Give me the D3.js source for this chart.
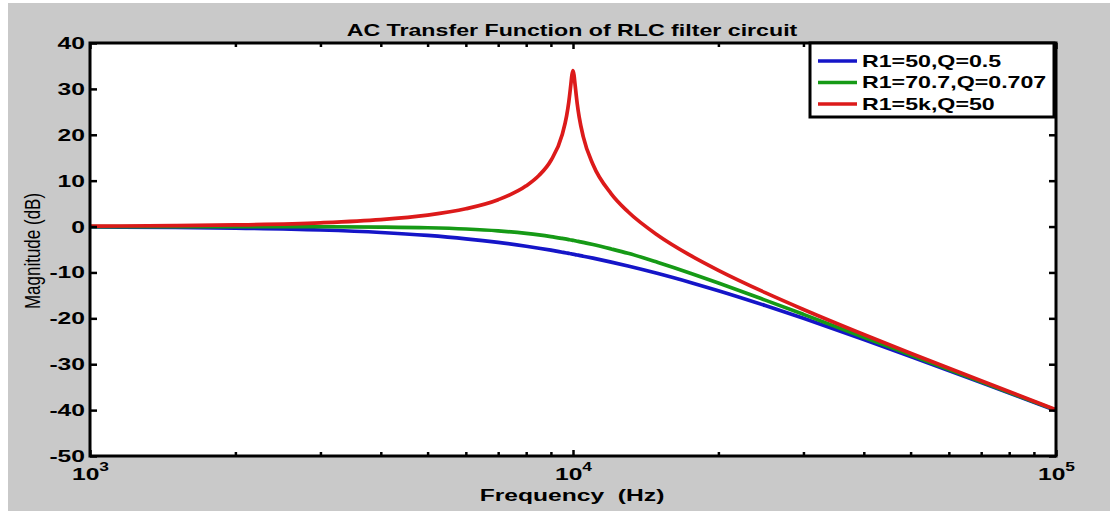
<!DOCTYPE html>
<html lang="en">
<head>
    <meta charset="utf8">
    <title>AC Transfer Function of RLC filter circuit</title>
    <script src="https://d3js.org/d3.v7.min.js"></script>
    <style>
        body { margin: 0; background: #ffffff; }
        svg { display: block; }
        text { font-family: "Liberation Sans", Arial, sans-serif; fill: #000; }
    </style>
</head>
<body>
    <svg id="chart" width="1110" height="512"></svg>
    <script>
        // frequency points (Hz)
        const freqs = [1000, 1500, 2000, 3000, 4000, 5000, 6000, 7000, 8000, 8500, 9000, 9500, 9700, 9800,
                       9900, 9950, 10000, 10050, 10100, 10200, 10300, 10500, 11000, 12000, 13000, 15000,
                       17500, 20000, 25000, 30000, 40000, 50000, 70000, 100000];

        // magnitude in dB for each curve
        const magQ05 = [-0.09, -0.19, -0.34, -0.75, -1.29, -1.94, -2.67, -3.46, -4.30, -4.72, -5.15, -5.59, -5.76, -5.85,
                        -5.93, -5.98, -6.02, -6.06, -6.11, -6.20, -6.28, -6.46, -6.89, -7.75, -8.60, -10.24,
                        -12.18, -13.98, -17.21, -20.00, -24.61, -28.30, -33.98, -40.09];
        const magQ0707 = [0, 0, -0.01, -0.04, -0.11, -0.26, -0.53, -0.93, -1.49, -1.82, -2.19, -2.59, -2.75, -2.84,
                          -2.92, -2.97, -3.01, -3.05, -3.10, -3.19, -3.27, -3.46, -3.92, -4.88, -5.82, -7.83,
                          -10.16, -12.30, -16.03, -19.14, -24.10, -27.97, -33.81, -40.00];
        const magQ50 = [0.09, 0.20, 0.36, 0.82, 1.51, 2.50, 3.88, 5.85, 8.87, 11.12, 14.39, 20.06, 24.12, 27.10,
                        31.03, 33.05, 33.98, 32.97, 30.90, 26.89, 23.84, 19.61, 13.51, 7.13, 3.22, -1.94,
                        -6.29, -9.54, -14.40, -18.06, -23.52, -27.60, -33.62, -39.91];

        const legendLabels = ["R1=50,Q=0.5", "R1=70.7,Q=0.707", "R1=5k,Q=50"];
        const lineColors = ["#1515c8", "#169a16", "#dc1a1a"];
        const yTicks = [-50, -40, -30, -20, -10, 0, 10, 20, 30, 40];
        const xDecades = [1e3, 1e4, 1e5];

        const series = [magQ05, magQ0707, magQ50];

        const W = 1110, H = 512;
        const mLeft = 90, mRight = 1056, mTop = 43, mBottom = 456;
        const SX = 1.45; // the picture is stretched sideways

        const svg = d3.select("#chart");

        svg.append("rect").attr("x", 8).attr("y", 3).attr("width", W - 8).attr("height", H - 4)
           .attr("fill", "#c9c9c9");
        svg.append("rect").attr("x", mLeft).attr("y", mTop)
           .attr("width", mRight - mLeft).attr("height", mBottom - mTop).attr("fill", "#fff");

        const x = d3.scaleLog().domain([1e3, 1e5]).range([mLeft, mRight]);
        const y = d3.scaleLinear().domain([-50, 40]).range([mBottom, mTop]);

        // minor + major ticks on the log axis
        const xTicks = [];
        [1e3, 1e4].forEach(d => { for (let k = 1; k < 10; k++) xTicks.push(d * k); });
        xTicks.push(1e5);

        svg.append("defs").append("clipPath").attr("id", "clip")
           .append("rect").attr("x", mLeft).attr("y", mTop - 2)
           .attr("width", mRight - mLeft).attr("height", mBottom - mTop + 4);

        const line = d3.line()
            .x((d, i) => x(freqs[i]))
            .y(d => y(d))
            .curve(d3.curveMonotoneX);

        svg.append("g").attr("clip-path", "url(#clip)")
           .selectAll("path")
           .data(series)
           .enter()
           .append("path")
           .attr("d", line)
           .attr("fill", "none")
           .attr("stroke", (d, i) => lineColors[i])
           .attr("stroke-width", 3.7)
           .attr("stroke-linejoin", "round");

        // y axes
        const yLeft = svg.append("g").attr("transform", `translate(${mLeft},0)`)
            .call(d3.axisLeft(y).tickValues(yTicks).tickSizeInner(-7).tickSizeOuter(0)
                    .tickPadding(6).tickFormat(d => String(d)));
        const yRight = svg.append("g").attr("transform", `translate(${mRight},0)`)
            .call(d3.axisRight(y).tickValues(yTicks).tickSizeInner(-7).tickSizeOuter(0).tickFormat(""));

        yLeft.selectAll("text")
             .attr("x", null)
             .attr("transform", `translate(-5,0) scale(${SX},1)`)
             .style("font-size", "17px").style("font-weight", "bold");

        // x axes
        const xBottom = svg.append("g").attr("transform", `translate(0,${mBottom})`)
            .call(d3.axisBottom(x).tickValues(xTicks).tickSizeInner(-4).tickSizeOuter(0).tickFormat(""));
        const xTop = svg.append("g").attr("transform", `translate(0,${mTop})`)
            .call(d3.axisTop(x).tickValues(xTicks).tickSizeInner(-4).tickSizeOuter(0).tickFormat(""));

        [yLeft, yRight, xBottom, xTop].forEach(g => {
            g.select(".domain").remove();
            g.selectAll("line").attr("stroke", "#000").attr("stroke-width", 2.5);
        });
        xBottom.selectAll(".tick").filter(d => xDecades.includes(d)).select("line").attr("y2", -6);
        xTop.selectAll(".tick").filter(d => xDecades.includes(d)).select("line").attr("y2", 6);

        xBottom.selectAll(".tick").filter(d => xDecades.includes(d))
            .append("g")
            .attr("transform", `translate(0,24) scale(${SX},1)`)
            .append("text")
            .attr("text-anchor", "middle")
            .style("font-weight", "bold")
            .each(function (d) {
                const t = d3.select(this);
                t.append("tspan").style("font-size", "17px").text("10");
                t.append("tspan").attr("dy", -9).style("font-size", "12px")
                 .text(Math.round(Math.log10(d)));
            });

        // frame
        svg.append("rect").attr("x", mLeft).attr("y", mTop)
           .attr("width", mRight - mLeft).attr("height", mBottom - mTop)
           .attr("fill", "none").attr("stroke", "#000").attr("stroke-width", 3);

        // title and axis labels
        svg.append("g").attr("transform", `translate(572,36) scale(${SX},1)`)
           .append("text").attr("text-anchor", "middle")
           .style("font-size", "16px").style("font-weight", "bold")
           .text("AC Transfer Function of RLC filter circuit");

        svg.append("g").attr("transform", `translate(572,501) scale(${SX},1)`)
           .append("text").attr("text-anchor", "middle")
           .style("font-size", "17px").style("font-weight", "bold")
           .attr("xml:space", "preserve")
           .text("Frequency  (Hz)");

        svg.append("g").attr("transform", `translate(40,251) rotate(-90) scale(1,1.3)`)
           .append("text").attr("text-anchor", "middle")
           .style("font-size", "17px")
           .text("Magnitude (dB)");

        // legend
        const lg = svg.append("g");
        lg.append("rect").attr("x", 810).attr("y", mTop).attr("width", 244).attr("height", 74)
          .attr("fill", "#fff").attr("stroke", "#000").attr("stroke-width", 3);
        const rows = lg.selectAll("g.row").data(legendLabels).enter().append("g")
          .attr("class", "row")
          .attr("transform", (d, i) => `translate(818,${61 + i * 21.5})`);
        rows.append("line").attr("x1", 0).attr("x2", 39)
            .attr("stroke", (d, i) => lineColors[i]).attr("stroke-width", 3.7);
        rows.append("g").attr("transform", `translate(44,0) scale(${SX},1)`)
            .append("text").attr("dy", "0.36em")
            .style("font-size", "16px").style("font-weight", "bold")
            .text(d => d);
    </script>
</body>
</html>
